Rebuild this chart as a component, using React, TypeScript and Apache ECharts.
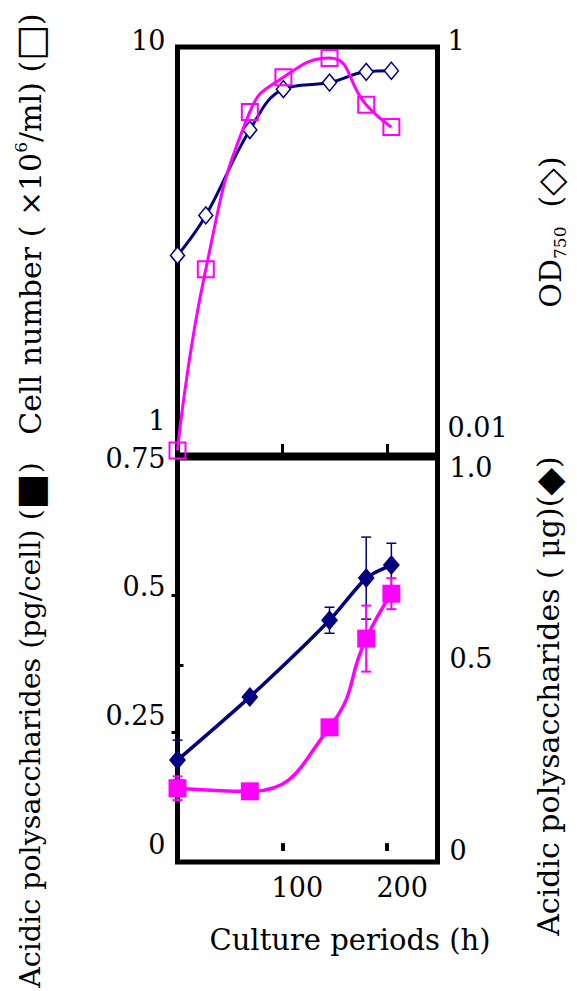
import React, { useEffect, useRef } from 'react';
import * as echarts from 'echarts';

// ---- data ----
const hoursTop = [0, 27, 69, 101, 145, 180, 204];
const cellNumber = [0.83, 2.54, 6.7, 8.3, 9.35, 7.0, 6.1];
const od750 = [0.08, 0.13, 0.366, 0.6, 0.65, 0.74, 0.75];

const hoursBottom = [0, 69, 145, 180, 204];
const apsPerCell = [0.11, 0.104, 0.228, 0.4, 0.487];
const apsPerCellErr = [0.023, 0, 0, 0.064, 0.03];
const apsTotal = [0.235, 0.4, 0.6, 0.71, 0.744];
const apsTotalErr = [0.052, 0, 0.034, 0.107, 0.057];

const xTickValues = [100, 200];
const leftTopLabels = [1, 10];
const rightTopLabels = [0.01, 1];
const leftBottomLabels = [0, 0.25, 0.5, 0.75];
const rightBottomLabels = [0, 0.5, 1.0];
const leftBottomTicks = [0.348];
const rightBottomTicks = [0.308, 0.666];

const FONT = "'DejaVu Serif', serif";
const SYM = "'DejaVu Sans', sans-serif";
const PINK = '#ff00ff';
const NAVY = '#000080';

const near = (a: number, b: number) => Math.abs(a - b) <= Math.abs(b) * 1e-6 + 1e-12;

function errorBars(xs: number[], ys: number[], es: number[]) {
  const out: number[][] = [];
  xs.forEach((x, i) => {
    if (es[i] > 0) out.push([x, ys[i] - es[i], ys[i] + es[i]]);
  });
  return out;
}

function makeErrSeries(data: number[][], yAxisIndex: number, color: string, lw: number) {
  return {
    type: 'custom',
    xAxisIndex: 1,
    yAxisIndex,
    data,
    encode: { x: 0, y: [1, 2] },
    z: 3,
    renderItem: (params: any, api: any) => {
      const x = api.value(0);
      const p1 = api.coord([x, api.value(1)]);
      const p2 = api.coord([x, api.value(2)]);
      const w = 5;
      const style = { stroke: color, lineWidth: lw };
      return {
        type: 'group',
        children: [
          { type: 'line', shape: { x1: p1[0], y1: p1[1], x2: p2[0], y2: p2[1] }, style },
          { type: 'line', shape: { x1: p1[0] - w, y1: p1[1], x2: p1[0] + w, y2: p1[1] }, style },
          { type: 'line', shape: { x1: p2[0] - w, y1: p2[1], x2: p2[0] + w, y2: p2[1] }, style },
        ],
      };
    },
  };
}

const labelBase = { color: '#000', fontFamily: FONT, fontSize: 27 };

function richFor(size: number) {
  return {
    a: { fontFamily: FONT, fontSize: size, color: '#000', lineHeight: 36 },
    s: { fontFamily: FONT, fontSize: 17, color: '#000', verticalAlign: 'top', lineHeight: 17 },
    b: { fontFamily: FONT, fontSize: 17, color: '#000', verticalAlign: 'bottom', lineHeight: 17 },
    pk: { fontFamily: SYM, fontSize: 38, color: PINK, lineHeight: 36 },
    nv: { fontFamily: SYM, fontSize: 36, color: NAVY, lineHeight: 36 },
  };
}

export default function App() {
  const ref = useRef<HTMLDivElement>(null);
  useEffect(() => {
    if (!ref.current) return;
    const chart = echarts.init(ref.current, null, { renderer: 'svg' });
    const option: any = {
      animation: false,
      backgroundColor: '#fff',
      grid: [
        { left: 177.5, width: 260, top: 47, height: 408, show: true, borderColor: '#000', borderWidth: 5, backgroundColor: 'transparent', outerBoundsMode: 'none' },
        { left: 177.5, width: 260, top: 458, height: 404, show: true, borderColor: '#000', borderWidth: 5, backgroundColor: 'transparent', outerBoundsMode: 'none' },
      ],
      xAxis: [
        {
          type: 'value', gridIndex: 0, min: 0, max: 248, position: 'bottom',
          axisLine: { show: false }, splitLine: { show: false },
          axisTick: { show: true, inside: true, length: 11, lineStyle: { color: '#000', width: 3 }, customValues: xTickValues },
          axisLabel: { show: false },
        },
        {
          type: 'value', gridIndex: 1, min: 0, max: 248, position: 'bottom',
          axisLine: { show: false }, splitLine: { show: false },
          axisTick: { show: true, inside: false, length: 6, lineStyle: { color: '#000', width: 4 }, customValues: xTickValues },
          axisLabel: { ...labelBase, margin: 12, padding: [0, 0, 0, 30], customValues: xTickValues, formatter: (v: number) => String(v) },
        },
        {
          type: 'value', gridIndex: 1, min: 0, max: 248, position: 'bottom',
          axisLine: { show: false }, splitLine: { show: false },
          axisTick: { show: true, inside: true, length: 7, lineStyle: { color: '#000', width: 4 }, customValues: xTickValues },
          axisLabel: { show: false },
        },
      ],
      yAxis: [
        {
          type: 'log', logBase: 10, gridIndex: 0, min: 0.807, max: 10, position: 'left',
          axisLine: { show: false }, axisTick: { show: false }, splitLine: { show: false },
          axisLabel: {
            ...labelBase, margin: 12,
            formatter: (v: number) => {
              if (near(v, leftTopLabels[1])) return '{t|' + leftTopLabels[1] + '}';
              if (near(v, leftTopLabels[0])) return String(leftTopLabels[0]);
              return '';
            },
            rich: { t: { ...labelBase, padding: [0, 0, 14, 0] } },
          },
        },
        {
          type: 'log', logBase: 10, gridIndex: 0, min: 0.00713, max: 1, position: 'right',
          axisLine: { show: false }, axisTick: { show: false }, splitLine: { show: false },
          axisLabel: {
            ...labelBase, margin: 10,
            formatter: (v: number) => {
              if (near(v, rightTopLabels[1])) return '{t|' + rightTopLabels[1] + '}';
              if (near(v, rightTopLabels[0])) return String(rightTopLabels[0]);
              return '';
            },
            rich: { t: { ...labelBase, padding: [0, 0, 14, 0] } },
          },
        },
        {
          type: 'value', gridIndex: 1, min: -0.033, max: 0.75, position: 'left',
          axisLine: { show: false }, splitLine: { show: false },
          axisTick: { show: true, inside: true, length: 6, lineStyle: { color: '#000', width: 3 }, customValues: leftBottomTicks },
          axisLabel: { ...labelBase, margin: 12, customValues: leftBottomLabels, formatter: (v: number) => String(v) },
        },
        {
          type: 'value', gridIndex: 1, min: -0.031, max: 1.0235, position: 'right',
          axisLine: { show: false }, splitLine: { show: false },
          axisTick: { show: true, inside: true, length: 6, lineStyle: { color: '#000', width: 3 }, customValues: rightBottomTicks },
          axisLabel: { ...labelBase, margin: 12, customValues: rightBottomLabels, formatter: (v: number) => (v === 0 ? '0' : v.toFixed(1)) },
        },
      ],
      series: [
        {
          name: 'OD750', type: 'line', xAxisIndex: 0, yAxisIndex: 1, smooth: 0.4,
          data: hoursTop.map((h, i) => [h, od750[i]]),
          symbol: 'diamond', symbolSize: [14, 17],
          itemStyle: { color: '#fff', borderColor: NAVY, borderWidth: 1.5 },
          lineStyle: { color: NAVY, width: 3 }, z: 2,
        },
        {
          name: 'Cell number', type: 'line', xAxisIndex: 0, yAxisIndex: 0, smooth: true,
          data: hoursTop.map((h, i) => [h, cellNumber[i]]),
          symbol: 'rect', symbolSize: 16,
          itemStyle: { color: 'rgba(255,255,255,0)', borderColor: PINK, borderWidth: 2 },
          lineStyle: { color: PINK, width: 3 }, z: 3,
        },
        makeErrSeries(errorBars(hoursBottom, apsTotal, apsTotalErr), 3, NAVY, 1.5),
        makeErrSeries(errorBars(hoursBottom, apsPerCell, apsPerCellErr), 2, PINK, 2),
        {
          name: 'AP total', type: 'line', xAxisIndex: 1, yAxisIndex: 3, smooth: 0.25,
          data: hoursBottom.map((h, i) => [h, apsTotal[i]]),
          symbol: 'diamond', symbolSize: [17, 20],
          itemStyle: { color: NAVY },
          lineStyle: { color: NAVY, width: 3.5 }, z: 4,
        },
        {
          name: 'AP per cell', type: 'line', xAxisIndex: 1, yAxisIndex: 2, smooth: true,
          data: hoursBottom.map((h, i) => [h, apsPerCell[i]]),
          symbol: 'rect', symbolSize: 18,
          itemStyle: { color: PINK },
          lineStyle: { color: PINK, width: 3.5 }, z: 5,
        },
      ],
      graphic: [
        {
          type: 'text', x: 30, y: 224, rotation: Math.PI / 2,
          style: { text: '{a|Cell number ( ×10}{s|6}{a|/ml) (}{pk|□}{a|)}', rich: richFor(30), align: 'center', verticalAlign: 'middle' },
        },
        {
          type: 'text', x: 550, y: 232, rotation: Math.PI / 2,
          style: { text: '{a|OD}{b|750}{a|  (}{nv|◇}{a|)}', rich: richFor(30), align: 'center', verticalAlign: 'middle' },
        },
        {
          type: 'text', x: 30, y: 725, rotation: Math.PI / 2,
          style: { text: '{a|Acidic polysaccharides (pg/cell) (}{pk|■}{a|)}', rich: richFor(28.5), align: 'center', verticalAlign: 'middle' },
        },
        {
          type: 'text', x: 548, y: 696, rotation: Math.PI / 2,
          style: { text: '{a|Acidic polysaccharides ( μg)(}{nv|◆}{a|)}', rich: richFor(30), align: 'center', verticalAlign: 'middle' },
        },
        {
          type: 'text', x: 350, y: 940,
          style: { text: 'Culture periods (h)', font: "29px 'DejaVu Serif', serif", fill: '#000', align: 'center', verticalAlign: 'middle' },
        },
      ],
    };
    chart.setOption(option);
    return () => chart.dispose();
  }, []);
  return <div ref={ref} style={{ position: 'fixed', left: 0, top: 0, width: 577, height: 991 }} />;
}
